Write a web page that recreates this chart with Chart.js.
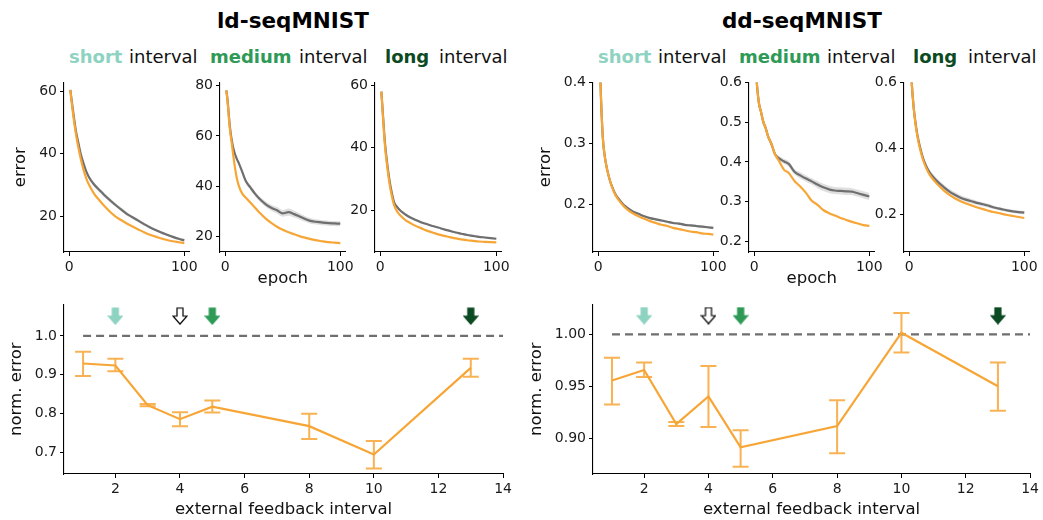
<!DOCTYPE html>
<html>
<head>
<meta charset="utf-8">
<script src="https://cdn.jsdelivr.net/npm/chart.js@4.4.0/dist/chart.umd.min.js"></script>
<style>
body { margin: 0; background: #fff; font-family: 'DejaVu Sans', sans-serif; }
#fig { position: relative; width: 1043px; height: 520px; overflow: hidden; background: #fff; }
canvas { position: absolute; }
.ttl { position: absolute; top: 8px; font-weight: bold; font-size: 21.5px; line-height: 26px; text-align: center; color: #000; }
.w { position: absolute; top: 46px; font-size: 18px; line-height: 22px; white-space: nowrap; color: #111; }
.w.b { font-weight: bold; }
</style>
</head>
<body>
<div id="fig">
  <div class="ttl" style="left:0;width:586px">ld-seqMNIST</div>
  <div class="ttl" style="left:520px;width:564px">dd-seqMNIST</div>

  <span class="w b" style="left:69px;color:#8ed3c1">short</span><span class="w" style="left:129px">interval</span>
  <span class="w b" style="left:210px;color:#2e9a56">medium</span><span class="w" style="left:299px">interval</span>
  <span class="w b" style="left:385px;color:#0b4a23">long</span><span class="w" style="left:439px">interval</span>

  <span class="w b" style="left:598px;color:#8ed3c1">short</span><span class="w" style="left:658px">interval</span>
  <span class="w b" style="left:739px;color:#2e9a56">medium</span><span class="w" style="left:827px">interval</span>
  <span class="w b" style="left:913px;color:#0b4a23">long</span><span class="w" style="left:968px">interval</span>

  <canvas id="c1" width="201" height="221" style="left:0px;top:71px"></canvas>
  <canvas id="c2" width="187" height="221" style="left:170px;top:71px"></canvas>
  <canvas id="c3" width="188" height="221" style="left:325px;top:71px"></canvas>
  <canvas id="c4" width="210" height="221" style="left:520px;top:71px"></canvas>
  <canvas id="c5" width="187" height="221" style="left:699px;top:71px"></canvas>
  <canvas id="c6" width="187" height="221" style="left:854px;top:71px"></canvas>
  <canvas id="b1" width="515" height="227" style="left:0px;top:293px"></canvas>
  <canvas id="b2" width="522" height="227" style="left:520px;top:293px"></canvas>
</div>
<script>
// training curves (error vs epoch)
var epochs = [1, 2, 4, 6, 8, 10, 12, 15, 18, 22, 26, 30, 35, 40, 45, 50, 55, 60, 65, 70, 75, 80, 85, 90, 95, 100];

var ldShortOrange = [60.5, 57, 51, 46, 42, 38.5, 35.5, 32, 29.5, 27, 25.2, 23.5, 21.6, 20.0, 18.8, 17.7, 16.7, 15.8, 14.9, 14.1, 13.5, 12.9, 12.4, 12.0, 11.7, 11.4];
var ldShortGrey = [60.5, 57.5, 52, 47, 43.5, 40, 37.5, 34.2, 32, 30, 28.5, 27.0, 25.3, 23.7, 22.2, 20.8, 19.7, 18.6, 17.5, 16.5, 15.6, 14.8, 14.1, 13.4, 12.8, 12.3];
var ldShortBand = [0.2, 0.3, 0.4, 0.5, 0.6, 0.6, 0.7, 0.7, 0.7, 0.7, 0.7, 0.7, 0.7, 0.6, 0.6, 0.6, 0.5, 0.5, 0.5, 0.4, 0.4, 0.4, 0.4, 0.4, 0.4, 0.4];

var ldMedOrange = [78, 74, 63, 56, 49, 43.5, 40, 37, 35.5, 33.5, 31.5, 29.5, 27.3, 25.5, 24.0, 22.8, 21.8, 21.0, 20.2, 19.6, 19.0, 18.6, 18.2, 17.9, 17.7, 17.5];
var ldMedGrey = [78, 74.5, 64, 57.5, 53.5, 51, 49, 45.5, 42, 39.5, 37, 35, 33, 31.5, 30.5, 29.3, 29.8, 29.0, 28.0, 27.0, 26.2, 25.9, 25.6, 25.4, 25.3, 25.2];
var ldMedBand = [0.3, 0.3, 0.4, 0.5, 0.6, 0.7, 0.8, 0.8, 0.9, 0.9, 1.0, 1.0, 1.1, 1.2, 1.3, 1.3, 1.4, 1.3, 1.2, 1.1, 1.1, 1.0, 1.0, 1.0, 1.0, 1.0];

var ldLongOrange = [58, 52, 41, 34, 28.5, 24.5, 21.5, 19.3, 18.0, 16.7, 15.8, 15.0, 14.2, 13.4, 12.8, 12.2, 11.7, 11.3, 10.9, 10.6, 10.3, 10.1, 9.9, 9.8, 9.7, 9.6];
var ldLongGrey = [58, 52.5, 42, 35, 29.5, 25.5, 22.5, 20.8, 19.6, 18.5, 17.6, 16.9, 16.1, 15.5, 14.9, 14.4, 13.8, 13.3, 12.8, 12.4, 12.0, 11.7, 11.4, 11.2, 11.0, 10.8];
var ldLongBand = [0.2, 0.2, 0.3, 0.3, 0.4, 0.4, 0.4, 0.4, 0.4, 0.4, 0.4, 0.4, 0.4, 0.3, 0.3, 0.3, 0.3, 0.3, 0.3, 0.3, 0.3, 0.3, 0.3, 0.3, 0.3, 0.3];

var ddShortOrange = [0.48, 0.40, 0.31, 0.275, 0.255, 0.24, 0.228, 0.215, 0.206, 0.197, 0.19, 0.185, 0.18, 0.176, 0.172, 0.169, 0.166, 0.164, 0.161, 0.159, 0.157, 0.155, 0.154, 0.152, 0.151, 0.150];
var ddShortGrey = [0.48, 0.40, 0.31, 0.275, 0.255, 0.24, 0.229, 0.216, 0.208, 0.199, 0.193, 0.188, 0.184, 0.180, 0.177, 0.175, 0.173, 0.171, 0.169, 0.168, 0.166, 0.165, 0.164, 0.163, 0.162, 0.161];
var ddShortBand = [0.001, 0.001, 0.001, 0.002, 0.002, 0.002, 0.002, 0.002, 0.002, 0.002, 0.002, 0.002, 0.002, 0.002, 0.002, 0.002, 0.002, 0.002, 0.002, 0.002, 0.002, 0.002, 0.002, 0.002, 0.002, 0.002];

var ddMedOrange = [0.66, 0.61, 0.55, 0.525, 0.5, 0.485, 0.465, 0.445, 0.42, 0.40, 0.38, 0.372, 0.352, 0.338, 0.322, 0.302, 0.292, 0.279, 0.271, 0.265, 0.259, 0.254, 0.249, 0.245, 0.241, 0.239];
var ddMedGrey = [0.66, 0.61, 0.55, 0.525, 0.5, 0.485, 0.465, 0.445, 0.42, 0.408, 0.401, 0.395, 0.375, 0.366, 0.358, 0.351, 0.343, 0.336, 0.331, 0.328, 0.327, 0.326, 0.325, 0.321, 0.317, 0.313];
var ddMedBand = [0, 0, 0.002, 0.003, 0.003, 0.004, 0.004, 0.004, 0.005, 0.006, 0.006, 0.007, 0.007, 0.008, 0.008, 0.008, 0.009, 0.009, 0.009, 0.009, 0.009, 0.009, 0.009, 0.009, 0.009, 0.009];

var ddLongOrange = [0.68, 0.61, 0.52, 0.46, 0.42, 0.39, 0.365, 0.338, 0.318, 0.30, 0.285, 0.272, 0.258, 0.247, 0.238, 0.231, 0.225, 0.219, 0.214, 0.209, 0.205, 0.201, 0.197, 0.194, 0.191, 0.188];
var ddLongGrey = [0.68, 0.61, 0.52, 0.465, 0.425, 0.395, 0.37, 0.344, 0.325, 0.308, 0.294, 0.282, 0.268, 0.258, 0.249, 0.243, 0.238, 0.233, 0.229, 0.224, 0.219, 0.215, 0.211, 0.208, 0.206, 0.204];
var ddLongBand = [0.003, 0.003, 0.004, 0.005, 0.006, 0.007, 0.007, 0.008, 0.008, 0.008, 0.008, 0.008, 0.008, 0.008, 0.007, 0.007, 0.007, 0.006, 0.006, 0.006, 0.005, 0.005, 0.005, 0.005, 0.005, 0.005];

var epochTicks = [0, 100];

// normalised error vs feedback interval
var intervals = [1, 2, 3, 4, 5, 8, 10, 13];
var ldNorm = [0.929, 0.924, 0.822, 0.786, 0.818, 0.768, 0.695, 0.918];
var ldNormHi = [0.959, 0.941, 0.825, 0.804, 0.834, 0.800, 0.730, 0.941];
var ldNormLo = [0.897, 0.909, 0.819, 0.768, 0.803, 0.735, 0.659, 0.895];
var ddNorm = [0.9557, 0.9658, 0.914, 0.9405, 0.8916, 0.912, 1.0016, 0.9503];
var ddNormHi = [0.9775, 0.973, 0.916, 0.9697, 0.908, 0.9367, 1.0205, 0.973];
var ddNormLo = [0.9326, 0.959, 0.912, 0.911, 0.873, 0.886, 0.9826, 0.9266];
var intervalTicks = [2, 4, 6, 8, 10, 12, 14];

var baseX = [1, 14];
var baseY = [1, 1];
var arrowX = [2, 4, 5, 13];
var ldArrowY = 1.051;
var ddArrowY = 1.018;

var ORANGE = '#f7a535';
var GREY = '#6f6f6f';
var arrowColors = ['#8ed3c1', '#ffffff', '#2e9a56', '#0b4a23'];

Chart.defaults.font.family = "'DejaVu Sans', sans-serif";
Chart.defaults.font.size = 14;
Chart.defaults.color = '#1a1a1a';

function pts(xs, ys) {
  return xs.map(function (x, i) { return { x: x, y: ys[i] }; });
}

function fixedTicks(list) {
  return function (scale) {
    scale.ticks = list.map(function (v) { return { value: v }; });
  };
}

function axisBase() {
  return {
    grid: { drawOnChartArea: false, drawTicks: true, tickLength: 4, color: '#000', lineWidth: 1 },
    border: { display: true, color: '#000', width: 1.1 },
    ticks: { padding: 3, color: '#1a1a1a' }
  };
}

function curveChart(id, orange, grey, band, yMin, yMax, yTicks, dec, yW, yTitlePad, showX) {
  var x = axisBase();
  x.type = 'linear';
  x.min = -4.5; x.max = 104.5;
  x.afterBuildTicks = fixedTicks(epochTicks);
  x.afterFit = function (s) { s.height = 40; };
  x.title = { display: showX, text: 'epoch', font: { size: 16.5 }, padding: { top: 0, bottom: 3 }, color: '#111' };

  var y = axisBase();
  y.min = yMin; y.max = yMax;
  y.afterBuildTicks = fixedTicks(yTicks);
  y.ticks.callback = function (v) { return v.toFixed(dec); };
  y.afterFit = function (s) { s.width = yW; };
  y.title = { display: yTitlePad !== null, text: 'error', font: { size: 16.5 }, padding: { top: yTitlePad || 0, bottom: 0 }, color: '#111' };

  var hi = grey.map(function (v, i) { return v + band[i]; });
  var lo = grey.map(function (v, i) { return v - band[i]; });

  new Chart(document.getElementById(id), {
    type: 'line',
    data: {
      datasets: [
        { data: pts(epochs, orange), borderColor: ORANGE, borderWidth: 2.2, pointRadius: 0, cubicInterpolationMode: 'monotone', order: 0 },
        { data: pts(epochs, grey), borderColor: GREY, borderWidth: 2.2, pointRadius: 0, cubicInterpolationMode: 'monotone', order: 1 },
        { data: pts(epochs, hi), borderWidth: 0, pointRadius: 0, cubicInterpolationMode: 'monotone', fill: '+1', backgroundColor: 'rgba(140,140,140,0.28)', order: 2 },
        { data: pts(epochs, lo), borderWidth: 0, pointRadius: 0, cubicInterpolationMode: 'monotone', fill: false, order: 3 }
      ]
    },
    options: {
      responsive: false,
      animation: false,
      layout: { padding: { top: 10, right: 8, left: 0, bottom: 0 } },
      plugins: { legend: { display: false }, tooltip: { enabled: false } },
      scales: { x: x, y: y }
    }
  });
}

curveChart('c1', ldShortOrange, ldShortGrey, ldShortBand, 8.57, 62.86, [20, 40, 60], 0, 64, 11, false);
curveChart('c2', ldMedOrange, ldMedGrey, ldMedBand, 13.99, 81.18, [20, 40, 60, 80], 0, 50, null, true);
curveChart('c3', ldLongOrange, ldLongGrey, ldLongBand, 6.54, 60.95, [20, 40, 60], 0, 50, null, false);
curveChart('c4', ddShortOrange, ddShortGrey, ddShortBand, 0.1213, 0.4, [0.2, 0.3, 0.4], 1, 73, 16, false);
curveChart('c5', ddMedOrange, ddMedGrey, ddMedBand, 0.1733, 0.6, [0.2, 0.3, 0.4, 0.5, 0.6], 1, 50, null, true);
curveChart('c6', ddLongOrange, ddLongGrey, ddLongBand, 0.0846, 0.6, [0.2, 0.4, 0.6], 1, 50, null, false);

function arrowImage(fill) {
  var c = document.createElement('canvas');
  c.width = 16; c.height = 18;
  var g = c.getContext('2d');
  g.beginPath();
  g.moveTo(5, 1); g.lineTo(11, 1); g.lineTo(11, 9); g.lineTo(15, 9);
  g.lineTo(8, 17); g.lineTo(1, 9); g.lineTo(5, 9); g.closePath();
  g.fillStyle = fill;
  g.fill();
  g.lineWidth = 1.2;
  g.strokeStyle = fill === '#ffffff' ? '#000' : fill;
  g.stroke();
  return c;
}
var arrowImgs = arrowColors.map(arrowImage);

function errorBars(xs, lo, hi) {
  return {
    id: 'errorBars',
    afterDatasetsDraw: function (chart) {
      var sx = chart.scales.x, sy = chart.scales.y, ctx = chart.ctx;
      ctx.save();
      ctx.strokeStyle = 'rgba(247,165,53,0.85)';
      ctx.lineWidth = 2;
      xs.forEach(function (v, i) {
        var px = sx.getPixelForValue(v);
        var y1 = sy.getPixelForValue(lo[i]);
        var y2 = sy.getPixelForValue(hi[i]);
        ctx.beginPath();
        ctx.moveTo(px, y1); ctx.lineTo(px, y2);
        ctx.moveTo(px - 8, y1); ctx.lineTo(px + 8, y1);
        ctx.moveTo(px - 8, y2); ctx.lineTo(px + 8, y2);
        ctx.stroke();
      });
      ctx.restore();
    }
  };
}

function normChart(id, vals, lo, hi, arrowY, yMin, yMax, yTicks, dec, yW, yTitlePad, padRight) {
  var x = axisBase();
  x.type = 'linear';
  x.min = 0.41; x.max = 14;
  x.afterBuildTicks = fixedTicks(intervalTicks);
  x.afterFit = function (s) { s.height = 46; };
  x.title = { display: true, text: 'external feedback interval', font: { size: 16.5 }, padding: { top: 0, bottom: 0 }, color: '#111' };

  var y = axisBase();
  y.min = yMin; y.max = yMax;
  y.afterBuildTicks = fixedTicks(yTicks);
  y.ticks.callback = function (v) { return v.toFixed(dec); };
  y.afterFit = function (s) { s.width = yW; };
  y.title = { display: true, text: 'norm. error', font: { size: 16.5 }, padding: { top: yTitlePad, bottom: 0 }, color: '#111' };

  new Chart(document.getElementById(id), {
    type: 'line',
    data: {
      datasets: [
        { data: pts(intervals, vals), borderColor: ORANGE, borderWidth: 2.2, pointRadius: 0, order: 0 },
        { data: pts(baseX, baseY), borderColor: GREY, borderWidth: 2.2, borderDash: [8, 5], pointRadius: 0, order: 1 },
        { data: arrowX.map(function (v) { return { x: v, y: arrowY }; }), showLine: false, pointStyle: arrowImgs, pointRadius: 8, order: 2 }
      ]
    },
    options: {
      responsive: false,
      animation: false,
      layout: { padding: { top: 10, right: padRight, left: 0, bottom: 0 } },
      plugins: { legend: { display: false }, tooltip: { enabled: false } },
      scales: { x: x, y: y }
    },
    plugins: [errorBars(intervals, lo, hi)]
  });
}

normChart('b1', ldNorm, ldNormLo, ldNormHi, ldArrowY, 0.645, 1.081, [0.7, 0.8, 0.9, 1.0], 1, 64, 6.6, 10);
normChart('b2', ddNorm, ddNormLo, ddNormHi, ddArrowY, 0.866, 1.0288, [0.90, 0.95, 1.00], 2, 73, 7.1, 9);
</script>
</body>
</html>
